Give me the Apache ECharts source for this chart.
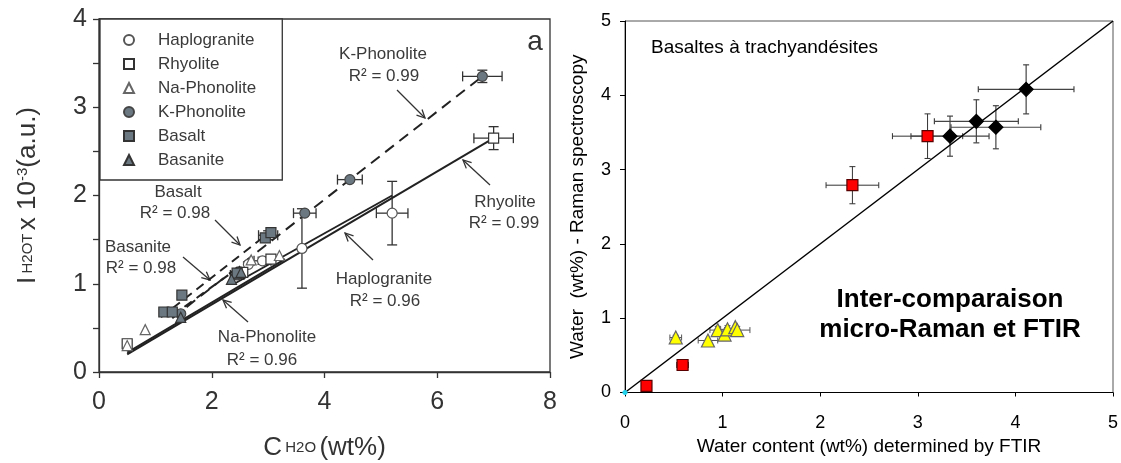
<!DOCTYPE html>
<html><head><meta charset="utf-8">
<script src="https://cdn.jsdelivr.net/npm/echarts@6/dist/echarts.min.js"></script>
<style>html,body{margin:0;padding:0;background:#fff}#c{width:1121px;height:463px}</style>
</head><body><div id="c"></div>
<script>
// ---------- Left panel: I_H2OT (x10^-3) vs C_H2O (wt%) ----------
const leftXTicks = [0, 2, 4, 6, 8];
const leftYTicks = [0, 1, 2, 3, 4];
const haplogranite = [[2.65,1.22],[2.9,1.26],[3.6,1.4],[5.2,1.8]];
const rhyolite     = [[0.5,0.32],[2.55,1.13],[3.05,1.28],[7.0,2.65]];
const naPhonolite  = [[0.5,0.3],[0.82,0.48],[2.7,1.27],[3.2,1.32]];
const kPhonolite   = [[1.45,0.66],[2.45,1.1],[3.65,1.8],[4.45,2.18],[6.8,3.35]];
const basalt       = [[1.15,0.68],[1.3,0.68],[1.47,0.87],[2.45,1.12],[2.95,1.52],[3.05,1.58]];
const basanite     = [[1.45,0.62],[2.35,1.05],[2.52,1.13]];
// regression lines (end points)
const fitKPhonolite   = [[1.3,0.61],[6.8,3.35]];
const fitBasalt       = [[1.1,0.62],[3.1,1.62]];
const fitBasanite     = [[1.3,0.64],[2.6,1.24]];
const fitRhyolite     = [[0.5,0.2],[7.0,2.65]];
const fitHaplogranite = [[2.4,1.0],[5.2,2.0]];
const fitNaPhonolite  = [[0.5,0.22],[3.3,1.28]];
// error bars [x, y, xerr, yerr]
const leftErrors = [[6.8,3.35,0.35,0.07],[4.45,2.18,0.22,0],[3.65,1.8,0.2,0],[7.0,2.65,0.35,0.13],
                    [5.2,1.8,0.28,0.36],[3.6,1.4,0,0.45],[3.0,1.55,0.17,0.05],[2.9,1.26,0.15,0.04],[2.45,1.1,0.12,0.04]];

// ---------- Right panel: Raman vs FTIR water (wt%) ----------
const rightTicks = [0, 1, 2, 3, 4, 5];
const redSquares = [[0.22,0.09],[0.59,0.37],[2.33,2.79],[3.10,3.45]];
const redErrors  = [[0.59,0.37,0.06,0],[2.33,2.79,0.27,0.25],[3.10,3.45,0.36,0.30]];
const blackDiamonds = [[3.33,3.45],[3.60,3.65],[3.80,3.57],[4.11,4.08]];
const diamondErrors = [[3.33,3.45,0.40,0.27],[3.60,3.65,0.43,0.29],[3.80,3.57,0.46,0.29],[4.11,4.08,0.49,0.33]];
const yellowTriangles = [[0.52,0.74],[0.85,0.70],[0.95,0.84],[1.02,0.78],[1.05,0.85],[1.13,0.88],[1.15,0.84]];
const triangleErrors  = [[0.52,0.74,0.06,0.03],[0.85,0.70,0.10,0],[0.95,0.84,0.08,0.05],[1.05,0.85,0.07,0.05],[1.15,0.84,0.13,0.05]];
const originPoint = [[0,0]];
const identityLine = [[0,0],[5,5]];

const FF = 'Liberation Sans, Arial, sans-serif';
const TXT = '#333';
const GRAY = '#6b7882';

function errRender(color, cap, lw){
  return function(params, api){
    const x=api.value(0), y=api.value(1), xe=api.value(2), ye=api.value(3);
    const st={stroke:color, lineWidth:lw, fill:null};
    const ch=[];
    if (xe>0){
      const l=api.coord([x-xe,y]), r=api.coord([x+xe,y]);
      ch.push({type:'line',shape:{x1:l[0],y1:l[1],x2:r[0],y2:r[1]},style:st});
      ch.push({type:'line',shape:{x1:l[0],y1:l[1]-cap,x2:l[0],y2:l[1]+cap},style:st});
      ch.push({type:'line',shape:{x1:r[0],y1:r[1]-cap,x2:r[0],y2:r[1]+cap},style:st});
    }
    if (ye>0){
      const b=api.coord([x,y-ye]), t=api.coord([x,y+ye]);
      ch.push({type:'line',shape:{x1:b[0],y1:b[1],x2:t[0],y2:t[1]},style:st});
      ch.push({type:'line',shape:{x1:b[0]-cap,y1:b[1],x2:b[0]+cap,y2:b[1]},style:st});
      ch.push({type:'line',shape:{x1:t[0]-cap,y1:t[1],x2:t[0]+cap,y2:t[1]},style:st});
    }
    return {type:'group',children:ch};
  };
}
function errSeries(data, xi, color, cap, lw){
  return {type:'custom', xAxisIndex:xi, yAxisIndex:xi, data:data, z:3, silent:true,
    encode:{x:0,y:1}, renderItem:errRender(color,cap,lw)};
}
function fitLine(data, dash){
  return {type:'line', xAxisIndex:0, yAxisIndex:0, data:data, showSymbol:false, silent:true, z:4,
    lineStyle:{color:'#222', width:2, type: dash || 'solid'}};
}
function scat(name, data, symbol, fill, border, xi, size){
  return {type:'scatter', name:name, xAxisIndex:xi, yAxisIndex:xi, data:data, symbol:symbol, symbolSize:size, z:5,
    itemStyle:{color:fill, borderColor:border, borderWidth:1.2, opacity:1}};
}
function arrow(x1,y1,x2,y2){
  const a=Math.atan2(y2-y1,x2-x1), L=9, s=0.45;
  const st={stroke:'#333',lineWidth:1.3,fill:null};
  return {type:'group',children:[
    {type:'line',shape:{x1:x1,y1:y1,x2:x2,y2:y2},style:st},
    {type:'polyline',shape:{points:[[x2-L*Math.cos(a-s),y2-L*Math.sin(a-s)],[x2,y2],[x2-L*Math.cos(a+s),y2-L*Math.sin(a+s)]]},style:st}
  ]};
}
function label(text,x,y,size){
  return {type:'text',x:x,y:y,z:20,style:{text:text,font:(size||17)+'px '+FF,fill:'#3a3a3a',align:'center',verticalAlign:'middle'}};
}

const chart = echarts.init(document.getElementById('c'), null, {renderer:'canvas'});
const option = {
  animation:false,
  backgroundColor:'#fff',
  grid:[
    {left:99, top:19, width:451, height:353, show:true, borderColor:'#333', borderWidth:1.3, backgroundColor:'transparent', outerBoundsMode:'none', containLabel:false},
    {left:625, top:21, width:488, height:371.5, show:true, borderColor:'#555', borderWidth:1, backgroundColor:'transparent', outerBoundsMode:'none', containLabel:false}
  ],
  legend:{
    data:['Haplogranite','Rhyolite','Na-Phonolite','K-Phonolite','Basalt','Basanite'],
    orient:'vertical', left:100, top:19, padding:[9,26,8,23], itemGap:0,
    itemWidth:10, itemHeight:10, selectedMode:false,
    borderColor:'#333', borderWidth:1.3, backgroundColor:'#fff',
    textStyle:{fontSize:17, color:'#3a3a3a', lineHeight:24, fontFamily:FF, padding:[0,0,0,19]}
  },
  xAxis:[
    {gridIndex:0, type:'value', min:leftXTicks[0], max:leftXTicks[leftXTicks.length-1], interval:2,
     splitLine:{show:false}, axisLine:{lineStyle:{color:'#333',width:1.3}},
     axisTick:{inside:false,length:6,lineStyle:{color:'#333',width:1.3}},
     axisLabel:{fontSize:25, color:TXT, fontFamily:FF, margin:18},
     name:'{b|C} {s|H2O} {b|(wt%)}', nameLocation:'middle', nameGap:63,
     nameTextStyle:{rich:{b:{fontSize:26,color:TXT,fontFamily:FF},s:{fontSize:15,color:TXT,fontFamily:FF}}}},
    {gridIndex:1, type:'value', min:rightTicks[0], max:rightTicks[rightTicks.length-1], interval:1,
     splitLine:{show:false}, axisLine:{lineStyle:{color:'#000',width:1}},
     axisTick:{inside:false,length:4,lineStyle:{color:'#000'}},
     axisLabel:{fontSize:18, color:'#000', fontFamily:FF, margin:22},
     name:'Water content (wt%) determined by FTIR', nameLocation:'middle', nameGap:44,
     nameTextStyle:{fontSize:19, color:'#000', fontFamily:FF}}
  ],
  yAxis:[
    {gridIndex:0, type:'value', min:leftYTicks[0], max:leftYTicks[leftYTicks.length-1], interval:0.5,
     splitLine:{show:false}, axisLine:{lineStyle:{color:'#333',width:1.3}},
     axisTick:{inside:false,length:6,lineStyle:{color:'#333',width:1.3}},
     axisLabel:{fontSize:25, color:TXT, fontFamily:FF, margin:12,
       formatter:function(v){return leftYTicks.indexOf(v)>=0 ? String(v) : '';}},
     name:'{b|I} {s|H2OT} {b|x 10}{p|-3}{b|(a.u.)}', nameLocation:'middle', nameGap:58,
     nameTextStyle:{rich:{b:{fontSize:26,color:TXT,fontFamily:FF},s:{fontSize:15,color:TXT,fontFamily:FF},
       p:{fontSize:15,color:TXT,fontFamily:FF,verticalAlign:'top'}}}},
    {gridIndex:1, type:'value', min:rightTicks[0], max:rightTicks[rightTicks.length-1], interval:1,
     splitLine:{show:false}, axisLine:{lineStyle:{color:'#000',width:1}},
     axisTick:{inside:false,length:5,lineStyle:{color:'#000'}},
     axisLabel:{fontSize:18, color:'#000', fontFamily:FF, margin:14},
     name:'Water  (wt%) - Raman spectroscopy', nameLocation:'middle', nameGap:38,
     nameTextStyle:{fontSize:19, color:'#000', fontFamily:FF}}
  ],
  series:[
    fitLine(fitRhyolite), fitLine(fitHaplogranite), fitLine(fitNaPhonolite),
    fitLine(fitKPhonolite,[11,7]), fitLine(fitBasalt,[9,6]), fitLine(fitBasanite,[9,6]),
    errSeries(leftErrors,0,'#333',5,1.3),
    scat('Haplogranite', haplogranite, 'circle', '#fff', '#555', 0, 10),
    scat('Rhyolite', rhyolite, 'rect', '#fff', '#333', 0, 10),
    scat('Na-Phonolite', naPhonolite, 'triangle', '#fff', '#666', 0, 10),
    scat('K-Phonolite', kPhonolite, 'circle', GRAY, '#444', 0, 10),
    scat('Basalt', basalt, 'rect', GRAY, '#333', 0, 10),
    scat('Basanite', basanite, 'triangle', GRAY, '#333', 0, 10),
    // right panel
    {type:'line', xAxisIndex:1, yAxisIndex:1, data:identityLine, showSymbol:false, silent:true, z:4,
     lineStyle:{color:'#000', width:1.5}},
    errSeries(redErrors,1,'#333',3,1),
    errSeries(diamondErrors,1,'#444',3,1.2),
    errSeries(triangleErrors,1,'#555',3,1),
    scat('FTIR-red', redSquares, 'rect', '#ff0000', '#5a0000', 1, 11),
    scat('FTIR-black', blackDiamonds, 'diamond', '#000', '#000', 1, 14),
    scat('FTIR-yellow', yellowTriangles, 'triangle', '#ffff00', '#666', 1, 13),
    scat('origin', originPoint, 'circle', '#22d3ee', '#22d3ee', 1, 4)
  ],
  graphic:[
    {type:'text', x:535, y:42, z:20, style:{text:'a', font:'28px '+FF, fill:'#333', align:'center', verticalAlign:'middle'}},
    label('K-Phonolite', 383, 54), label('R² = 0.99', 384, 76), arrow(397,90,425,118),
    label('Rhyolite', 505, 202), label('R² = 0.99', 504, 223), arrow(490,185,463,160),
    label('Basalt', 178, 192), label('R² = 0.98', 175, 213), arrow(215,220,240,245),
    label('Basanite', 138, 247), label('R² = 0.98', 141, 268), arrow(183,257,210,280),
    label('Haplogranite', 384, 279), label('R² = 0.96', 385, 301), arrow(373,260,345,233),
    label('Na-Phonolite', 267, 337), label('R² = 0.96', 262, 360), arrow(248,322,223,300),
    {type:'text', x:651, y:48, z:20, style:{text:'Basaltes à trachyandésites', font:'19px '+FF, fill:'#000', align:'left', verticalAlign:'middle'}},
    {type:'text', x:950, y:300, z:20, style:{text:'Inter-comparaison', font:'bold 26px '+FF, fill:'#000', align:'center', verticalAlign:'middle'}},
    {type:'text', x:950, y:330, z:20, style:{text:'micro-Raman et FTIR', font:'bold 26px '+FF, fill:'#000', align:'center', verticalAlign:'middle'}}
  ]
};
chart.setOption(option);
</script>
</body></html>
